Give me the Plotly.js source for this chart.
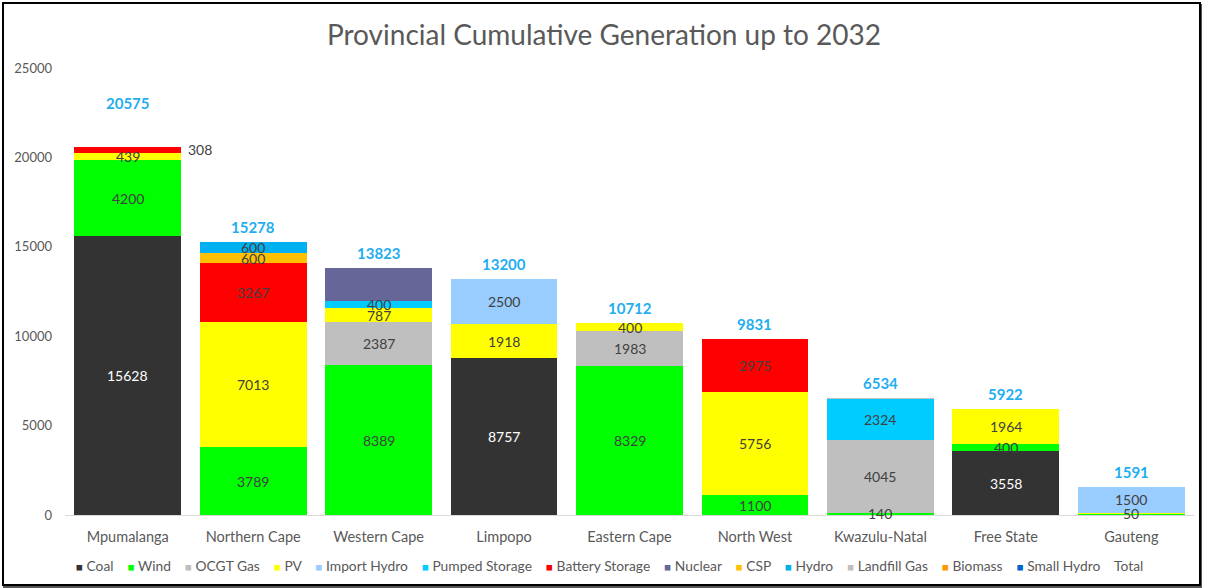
<!DOCTYPE html>
<html>
<head>
<meta charset="utf-8">
<script src="https://cdn.plot.ly/plotly-3.0.1.min.js"></script>
<style>
  html, body { margin: 0; padding: 0; background: #fff; }
  #wrap { position: relative; width: 1208px; height: 588px; }
  #chart { width: 1208px; height: 588px; }
  #frame { position: absolute; left: 2px; top: 2px; width: 1195px; height: 580px;
           border: 2px solid #000; pointer-events: none; box-shadow: 1px 2px 0 #555; }
</style>
</head>
<body>
<div id="wrap"><div id="chart"></div><div id="frame"></div></div>
<script>
// ---- Data ----
const categories = ['Mpumalanga','Northern Cape','Western Cape','Limpopo','Eastern Cape','North West','Kwazulu-Natal','Free State','Gauteng'];
const coal          = [15628, 0,    0,    8757, 0,    0,    0,    3558, 0];
const wind          = [4200,  3789, 8389, 0,    8329, 1100, 140,  400,  41];
const ocgtGas       = [0,     0,    2387, 0,    1983, 0,    4045, 0,    0];
const pv            = [439,   7013, 787,  1918, 400,  5756, 0,    1964, 50];
const importHydro   = [0,     0,    0,    2500, 0,    0,    0,    0,    1500];
const pumpedStorage = [0,     0,    400,  0,    0,    0,    2324, 0,    0];
const batteryStorage= [308,   3267, 0,    0,    0,    2975, 0,    0,    0];
const nuclear       = [0,     0,    1860, 0,    0,    0,    0,    0,    0];
const csp           = [0,     600,  0,    0,    0,    0,    0,    0,    0];
const hydro         = [0,     600,  0,    0,    0,    0,    0,    0,    0];
const landfillGas   = [0,     0,    0,    0,    0,    0,    25,   0,    0];
const biomass       = [0,     9,    0,    25,   0,    0,    0,    0,    0];
const smallHydro    = [0,     0,    0,    0,    0,    0,    0,    0,    0];
const totals        = [20575, 15278, 13823, 13200, 10712, 9831, 6534, 5922, 1591];

const seriesNames  = ['Coal','Wind','OCGT Gas','PV','Import Hydro','Pumped Storage','Battery Storage','Nuclear','CSP','Hydro','Landfill Gas','Biomass','Small Hydro'];
const seriesValues = [coal, wind, ocgtGas, pv, importHydro, pumpedStorage, batteryStorage, nuclear, csp, hydro, landfillGas, biomass, smallHydro];
const seriesColors = ['#333333','#00FF00','#BFBFBF','#FFFF00','#99CCFF','#00CCFF','#FF0000','#666699','#FFC000','#00B0F0','#BFBFBF','#FF9900','#0066CC'];
const labelColors  = ['#FFFFFF','#404040','#404040','#404040','#404040','#404040','#404040','#404040','#404040','#404040','#404040','#404040','#404040'];
const totalName = 'Total';
const unlabeledSeries = ['Nuclear'];
const outsideLabels = [{series: 'Battery Storage', category: 'Mpumalanga'}];
const minLabelValue = 50;

// ---- Build ----
const FONT = 'Lato, "Open Sans", sans-serif';
const isOutside = (s, c) => outsideLabels.some(o => o.series === s && o.category === c);

const traces = seriesNames.map((name, si) => ({
  type: 'bar',
  name: name,
  x: categories,
  y: seriesValues[si],
  marker: { color: seriesColors[si], line: { width: 0 } },
  hoverinfo: 'name+y'
}));

const annotations = [];
// Segment value labels (centred in each stacked segment)
categories.forEach((cat, ci) => {
  let base = 0;
  seriesNames.forEach((name, si) => {
    const v = seriesValues[si][ci];
    const mid = base + v / 2;
    base += v;
    if (v < minLabelValue || unlabeledSeries.includes(name)) return;
    const out = isOutside(name, cat);
    annotations.push({
      x: cat, y: mid, xref: 'x', yref: 'y', text: String(v), showarrow: false,
      xanchor: out ? 'left' : 'center', xshift: out ? 58 : 0, yanchor: 'middle',
      font: { family: FONT, size: 14, color: out ? '#404040' : labelColors[si] }
    });
  });
});
// Total labels above bars
totals.forEach((t, i) => {
  annotations.push({
    x: categories[i], y: t, xref: 'x', yref: 'y',
    text: '<b>' + t + '</b>', showarrow: false, yanchor: 'bottom',
    yshift: i === 0 ? 33 : 4,
    font: { family: FONT, size: 15, color: '#1FAEEF' }
  });
});
// Legend (single row, Excel-like)
const sp = '&#160;';
const legendParts = seriesNames.map((n, i) =>
  '<span style="color:' + seriesColors[i] + ';font-size:11.5px">■</span>' + sp + n);
legendParts.push(totalName);
annotations.push({
  xref: 'paper', yref: 'paper', x: 0.482, y: -0.112, xanchor: 'center', yanchor: 'middle',
  text: legendParts.join(sp + sp + sp + sp), showarrow: false,
  font: { family: FONT, size: 13.8, color: '#595959' }
});

const layout = {
  width: 1208, height: 588,
  paper_bgcolor: '#fff', plot_bgcolor: '#fff',
  margin: { l: 65, r: 14, t: 68, b: 73 },
  barmode: 'stack', bargap: 0.148,
  showlegend: false,
  title: { text: 'Provincial Cumulative Generation up to 2032', x: 0.5, xanchor: 'center',
           y: 0.94, yanchor: 'middle',
           font: { family: FONT, size: 28, color: '#595959' } },
  xaxis: { type: 'category', showline: true, linecolor: '#D9D9D9', linewidth: 1,
           ticks: '', showgrid: false, zeroline: false, ticklabelstandoff: 9,
           tickfont: { family: FONT, size: 14.5, color: '#595959' } },
  yaxis: { range: [0, 25000], dtick: 5000, showgrid: false, zeroline: false, showline: false,
           ticks: '', ticklabelstandoff: 12, tickformat: 'd',
           tickfont: { family: FONT, size: 13, color: '#595959' } },
  annotations: annotations
};

Plotly.newPlot('chart', traces, layout, { displayModeBar: false, staticPlot: true });
</script>
</body>
</html>
